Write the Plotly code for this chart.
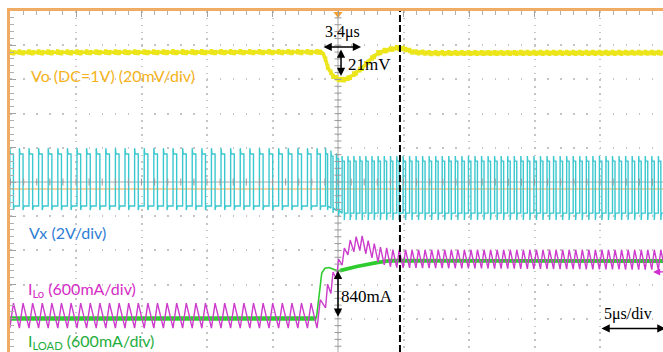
import numpy as np
import plotly.graph_objects as go

# ---------------- values ----------------
# horizontal unit: microseconds (5 us/div); vertical unit: screen divisions (0 = screen centre)
time_range = [-25.04, 24.81]
div_range = [-4.97, 5.0]

# switching period (us) versus time, read from pulse spacing
sw_t = [-26.0, -1.7, -1.3, 0.5, 4.0, 6.0, 26.0]
sw_period = [0.733, 0.733, 0.40, 0.45, 0.48, 0.50, 0.50]
sw_anchor = -1.60          # inductor-current valley at the load step
high_fraction = 0.38       # Vx high-time fraction of a period

# Vx (ch2, 2 V/div) plateau levels (div)
vx_t = [-26.0, -0.9, 0.3, 26.0]
vx_high = [0.82, 0.82, 0.61, 0.61]
vx_low = [-0.70, -0.70, -0.91, -0.91]
vx_ring_hi = [0.17, 0.17, 0.15, 0.15]
vx_ring_lo = [0.12, 0.12, 0.20, 0.20]

# Vo (ch1, 20 mV/div, DC = 1 V) trace centre (div)
vo_t = [-26.0, -1.37, -1.22, -0.99, -0.76, -0.38, 0.15, 0.69, 1.15, 1.83, 2.44,
        3.05, 3.74, 4.50, 5.11, 5.73, 7.02, 26.0]
vo_div = [3.79, 3.80, 3.83, 3.63, 3.33, 3.10, 2.98, 3.01, 3.13, 3.33, 3.57,
          3.77, 3.86, 3.92, 3.89, 3.80, 3.77, 3.78]
vo_noise = 0.09

# ILo (ch3, 600 mA/div) ripple peaks and valleys (div)
ilo_pk_t = [-26.0, -1.60, -1.15, -0.76, -0.38, 0.08, 0.53, 0.92, 1.30, 1.76, 2.21,
            2.67, 3.21, 3.74, 4.20, 26.0]
ilo_pk = [-3.54, -3.54, -3.36, -2.95, -2.63, -2.22, -1.90, -1.70, -1.61, -1.55, -1.70,
          -1.78, -1.90, -1.93, -1.98, -1.98]
ilo_vl_t = [-26.0, -1.60, -0.92, -0.53, -0.15, 0.38, 0.76, 1.15, 1.60, 2.06, 2.60,
            3.05, 3.59, 4.12, 4.58, 26.0]
ilo_vl = [-4.27, -4.27, -3.65, -3.25, -2.87, -2.37, -2.13, -2.05, -1.99, -2.08, -2.22,
          -2.34, -2.43, -2.49, -2.51, -2.57]

# ILOAD (ch4, 600 mA/div) (div)
iload_t = [-26.0, -1.65, -1.45, -1.24, -1.0, -0.67, -0.1, 0.15, 1.43, 2.95, 3.97, 26.0]
iload_div = [-3.99, -3.99, -3.35, -2.66, -2.52, -2.50, -2.59, -2.59, -2.47, -2.36, -2.30, -2.31]

# channel offset markers (div) and cursor / trigger
ch_level = [3.80, 0.0, -3.93]
trigger_level = -0.205
cursor_t = 4.73

# measurement annotations
dt_meas = ("3.4\u03bcs", -1.22, 1.76, 3.95)        # text, t0, t1, level
dv_meas = ("21mV", 0.23, 3.92, 3.10)
di_meas = ("840mA", 0.0, -2.55, -3.94)
scale_meas = ("5\u03bcs/div", 20.0, 25.0, -4.28)

# ---------------- build switching waveforms ----------------
starts = []
t = sw_anchor - 35 * sw_period[0]
while t < 26.0:
    starts.append(t)
    t += float(np.interp(t, sw_t, sw_period))
starts = np.array(starts)
periods = np.interp(starts, sw_t, sw_period)

vx_x, vx_y, ilo_x, ilo_y, vo_x, vo_y = [], [], [], [], [], []
for s, T in zip(starts, periods):
    hi = np.interp(s, vx_t, vx_high)
    lo = np.interp(s, vx_t, vx_low)
    rh = np.interp(s, vx_t, vx_ring_hi)
    rl = np.interp(s, vx_t, vx_ring_lo)
    tf = s + high_fraction * T
    vx_x += [s, s, s + 0.06 * T, tf, tf, tf + 0.08 * T]
    vx_y += [lo, hi + rh, hi, hi, lo - rl, lo]
    ilo_x += [s, tf]
    ilo_y += [np.interp(s, ilo_vl_t, ilo_vl), np.interp(tf, ilo_pk_t, ilo_pk)]
    # switching-edge noise on Vo: short vertical spikes at each Vx edge
    for frac, k in [(0.0, 0.0), (0.0, 1.0), (0.0, -0.8), (0.04, 0.0),
                    (high_fraction, 0.0), (high_fraction, -1.0), (high_fraction, 0.7),
                    (high_fraction + 0.04, 0.0), (0.7, 0.0)]:
        tt = s + frac * T
        vo_x.append(tt)
        vo_y.append(np.interp(tt, vo_t, vo_div) + k * vo_noise)

# ---------------- figure ----------------
C_VO, C_VX, C_ILO, C_LOAD = "#ebe51a", "#3cc8cf", "#cc3dcc", "#2fcc2f"
fig = go.Figure()
fig.add_trace(go.Scatter(x=vx_x, y=vx_y, mode="lines", line=dict(color=C_VX, width=1.4)))
fig.add_trace(go.Scatter(x=vo_x, y=vo_y, mode="lines", line=dict(color=C_VO, width=3.6)))
fig.add_trace(go.Scatter(x=iload_t[:2], y=iload_div[:2], mode="lines", line=dict(color=C_LOAD, width=4.5)))
fig.add_trace(go.Scatter(x=iload_t[1:8], y=iload_div[1:8], mode="lines", line=dict(color=C_LOAD, width=1.6)))
fig.add_trace(go.Scatter(x=iload_t[7:], y=iload_div[7:], mode="lines", line=dict(color=C_LOAD, width=3.8)))
fig.add_trace(go.Scatter(x=ilo_x, y=ilo_y, mode="lines", line=dict(color=C_ILO, width=1.4)))

# centre cross-hair tick marks
minor_t = np.arange(-25, 25.01, 1.0)
minor_d = np.arange(-5, 5.01, 0.2)
fig.add_trace(go.Scatter(x=minor_t, y=np.zeros_like(minor_t), mode="markers",
                         marker=dict(symbol="line-ns", size=5, line=dict(color="#9a9a9a", width=1))))
fig.add_trace(go.Scatter(x=np.zeros_like(minor_d), y=minor_d, mode="markers",
                         marker=dict(symbol="line-ew", size=5, line=dict(color="#9a9a9a", width=1))))

# channel markers
mk_t = -25.27
fig.add_trace(go.Scatter(x=[mk_t - 0.2], y=[ch_level[2] - 0.1], mode="markers", cliponaxis=False,
                         marker=dict(size=12, color=C_LOAD, line=dict(width=0))))
fig.add_trace(go.Scatter(x=[mk_t, mk_t, mk_t], y=ch_level, mode="markers+text", cliponaxis=False,
                         text=["1", "2", "3"], textposition="middle center",
                         textfont=dict(size=8, color="#333", family="Liberation Sans"),
                         marker=dict(size=11, color=["#f2e21c", "#30d0d8", "#d02ed0"],
                                     line=dict(color=["#e0a030", "#20a0b0", "#a020a0"], width=1))))
fig.add_trace(go.Scatter(x=[0], y=[4.91], mode="markers", cliponaxis=False,
                         marker=dict(symbol="triangle-down", size=8, color="#f5a030")))

shapes = [
    dict(type="line", xref="x", yref="y", x0=0, x1=0, y0=div_range[0], y1=div_range[1],
         line=dict(color="#a8a8a8", width=1), layer="below"),
    dict(type="line", xref="x", yref="y", x0=time_range[0], x1=time_range[1], y0=0, y1=0,
         line=dict(color="#a8a8a8", width=1), layer="below"),
    dict(type="line", xref="x", yref="y", x0=time_range[0], x1=time_range[1],
         y0=trigger_level, y1=trigger_level, line=dict(color="#f0a848", width=1.2), layer="below"),
    dict(type="line", xref="x", yref="y", x0=cursor_t, x1=cursor_t, y0=div_range[0], y1=div_range[1],
         line=dict(color="black", width=2, dash="7px,3px")),
]


def darrow(x0, y0, x1, y1, color="black", both=True, width=1.5):
    return dict(x=x1, y=y1, ax=x0, ay=y0, xref="x", yref="y", axref="x", ayref="y", text="",
                showarrow=True, arrowhead=2, startarrowhead=2,
                arrowside="end+start" if both else "end",
                arrowsize=1.1, startarrowsize=1.1, arrowwidth=width, arrowcolor=color)


def label(txt, x, y, color, size=16, family="Lato", anchor="left"):
    return dict(text=txt, x=x, y=y, xref="x", yref="y", showarrow=False, xanchor=anchor,
                yanchor="middle", font=dict(color=color, size=size, family=family))


serif = "Liberation Serif"
ann = [
    label("Vo (DC=1V) (20mV/div)", -23.59, 3.10, "#f5b21a"),
    label("Vx (2V/div)", -23.74, -1.48, "#2f80d5"),
    label("I<sub>Lo</sub> (600mA/div)", -23.82, -3.14, "#d42cc4"),
    label("I<sub>LOAD</sub> (600mA/div)", -23.82, -4.66, "#1fae3d"),
    label(dt_meas[0], 0.38, 4.39, "black", 16, serif, "center"),
    label(dv_meas[0], 2.42, 3.45, "black", 17, serif, "center"),
    label(di_meas[0], 2.21, -3.35, "black", 17, serif, "center"),
    label(scale_meas[0], 22.1, -3.87, "black", 16, serif, "center"),
    darrow(dt_meas[1], dt_meas[3], dt_meas[2], dt_meas[3]),
    darrow(dv_meas[1], dv_meas[2], dv_meas[1], dv_meas[3]),
    darrow(di_meas[1], di_meas[2], di_meas[1], di_meas[3]),
    darrow(scale_meas[1], scale_meas[3], scale_meas[2], scale_meas[3]),
    darrow(25.0, -2.63, 24.05, -2.63, color="#d02ed0", both=False, width=1.3),
]

fig.update_layout(
    width=663, height=352, margin=dict(l=10, r=0, t=11, b=0, pad=0),
    paper_bgcolor="white", plot_bgcolor="white", showlegend=False, hovermode=False,
    shapes=shapes, annotations=ann,
    xaxis=dict(range=time_range, side="top", showline=True, linecolor="#f0ac64", linewidth=3,
               ticks="inside", ticklen=6, tickcolor="#a0a0a0", tickwidth=1, dtick=5, tick0=0,
               minor=dict(dtick=1, ticks="inside", ticklen=4, tickcolor="#b0b0b0", showgrid=False),
               showticklabels=False, showgrid=True, gridcolor="#c4c4c4", gridwidth=1.5,
               griddash="1.5px,5.34px", zeroline=False, fixedrange=True),
    yaxis=dict(range=div_range, showline=True, linecolor="#f0ac64", linewidth=3,
               ticks="inside", ticklen=6, tickcolor="#a0a0a0", tickwidth=1, dtick=1, tick0=0,
               minor=dict(dtick=0.2, ticks="inside", ticklen=4, tickcolor="#b0b0b0", showgrid=False),
               showticklabels=False, showgrid=True, gridcolor="#c4c4c4", gridwidth=1.5,
               griddash="1.5px,11.6px", zeroline=False, fixedrange=True),
)

fig.write_html("out.html")
